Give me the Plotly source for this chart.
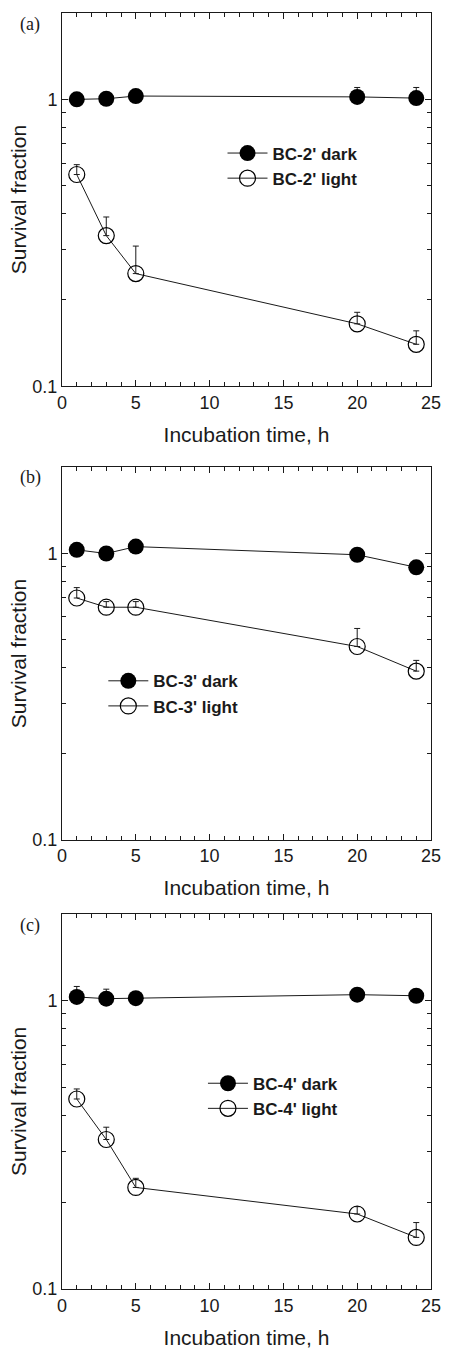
import plotly.graph_objects as go

hours = [1, 3, 5, 20, 24]

a_dark = [1.00, 1.005, 1.027, 1.02, 1.01]
a_dark_err = [0.03, 0.03, 0.03, 0.08, 0.09]
a_light = [0.547, 0.335, 0.247, 0.165, 0.140]
a_light_err = [0.045, 0.054, 0.061, 0.016, 0.016]

b_dark = [1.03, 1.00, 1.057, 0.99, 0.895]
b_dark_err = [0.03, 0.03, 0.03, 0.03, 0.03]
b_light = [0.699, 0.649, 0.649, 0.473, 0.388]
b_light_err = [0.061, 0.03, 0.03, 0.074, 0.035]

c_dark = [1.03, 1.016, 1.02, 1.049, 1.04]
c_dark_err = [0.09, 0.08, 0.03, 0.03, 0.03]
c_light = [0.456, 0.330, 0.225, 0.182, 0.151]
c_light_err = [0.038, 0.034, 0.017, 0.011, 0.019]

names = [("BC-2' dark", "BC-2' light"), ("BC-3' dark", "BC-3' light"), ("BC-4' dark", "BC-4' light")]
panel_labels = ["(a)", "(b)", "(c)"]

y_ticks = [0.1, 1]
y_ticktext = ["0.1", "1"]
y_minor = [0.2, 0.3, 0.4, 0.5, 0.6, 0.7, 0.8, 0.9]

W, H = 453, 1357
ML, MR, MT, MB = 62, 13, 13, 55
domains = [(0.7075, 1.0), (0.3522, 0.6439), (0.0, 0.2940)]
label_y = [0.9907, 0.6362, 0.2847]
legend_pos = [(0.435, 0.904), (0.112, 0.4904), (0.382, 0.175)]

FONT = "Liberation Sans, Arial, sans-serif"
INK = "#1a1a1a"

fig = go.Figure()
series = [(a_dark, a_dark_err, a_light, a_light_err),
          (b_dark, b_dark_err, b_light, b_light_err),
          (c_dark, c_dark_err, c_light, c_light_err)]

for i, (dk, dke, lt, lte) in enumerate(series):
    sfx = "" if i == 0 else str(i + 1)
    leg = "legend" if i == 0 else "legend" + str(i + 1)
    fig.add_trace(go.Scatter(
        x=hours, y=dk, mode="lines+markers", name=names[i][0],
        xaxis="x" + sfx, yaxis="y" + sfx, legend=leg,
        line=dict(color=INK, width=1),
        marker=dict(symbol="circle", size=16, color="black"),
        error_y=dict(type="data", symmetric=False, array=dke,
                     arrayminus=[0] * len(dke), color=INK, thickness=1, width=3),
    ))
    fig.add_trace(go.Scatter(
        x=hours, y=lt, mode="lines+markers", name=names[i][1],
        xaxis="x" + sfx, yaxis="y" + sfx, legend=leg,
        line=dict(color=INK, width=1),
        marker=dict(symbol="circle-open", size=16, color="black", line=dict(width=1.2)),
        error_y=dict(type="data", symmetric=False, array=lte,
                     arrayminus=[0] * len(lte), color=INK, thickness=1, width=3),
    ))

layout = dict(
    width=W, height=H,
    margin=dict(l=ML, r=MR, t=MT, b=MB),
    paper_bgcolor="white", plot_bgcolor="white",
    font=dict(family=FONT, color=INK),
    showlegend=True,
)

for i in range(3):
    sfx = "" if i == 0 else str(i + 1)
    layout["xaxis" + sfx] = dict(
        domain=[0, 1], anchor="y" + sfx, range=[0, 25],
        tickmode="linear", tick0=0, dtick=5, ticks="inside", ticklen=6,
        tickwidth=1, tickcolor=INK,
        minor=dict(tickmode="linear", tick0=0, dtick=1, ticks="inside", ticklen=4,
                   tickwidth=1, tickcolor=INK),
        showline=True, linecolor=INK, linewidth=1, mirror="ticks",
        showgrid=False, zeroline=False,
        tickfont=dict(size=18, family=FONT),
        title=dict(text="Incubation time, h", font=dict(size=21, family=FONT), standoff=15),
    )
    layout["yaxis" + sfx] = dict(
        domain=list(domains[i]), anchor="x" + sfx, type="log",
        range=[-1, 0.30103],
        tickmode="array", tickvals=y_ticks, ticktext=y_ticktext,
        ticks="inside", ticklen=6, tickwidth=1, tickcolor=INK,
        minor=dict(tickmode="array", tickvals=y_minor, ticks="inside", ticklen=4,
                   tickwidth=1, tickcolor=INK),
        showline=True, linecolor=INK, linewidth=1, mirror="ticks",
        showgrid=False, zeroline=False,
        tickfont=dict(size=18, family=FONT),
        title=dict(text="Survival fraction", font=dict(size=21, family=FONT), standoff=0),
    )
    leg = "legend" if i == 0 else "legend" + str(i + 1)
    layout[leg] = dict(
        x=legend_pos[i][0], y=legend_pos[i][1], xanchor="left", yanchor="top",
        bgcolor="rgba(0,0,0,0)", borderwidth=0,
        font=dict(size=17, family=FONT, color=INK, weight="bold"),
        tracegroupgap=0, itemsizing="trace", itemwidth=40,
    )

fig.update_layout(**layout)

for i in range(3):
    fig.add_annotation(
        text=panel_labels[i], xref="paper", yref="paper",
        x=-0.12, y=label_y[i], xanchor="left", yanchor="middle",
        showarrow=False, font=dict(size=18, family="Liberation Serif, Times New Roman, serif", color=INK),
    )

fig.write_html("out.html", config={"displayModeBar": False},
               post_script="document.body.style.margin='0';document.body.style.overflow='hidden';")
